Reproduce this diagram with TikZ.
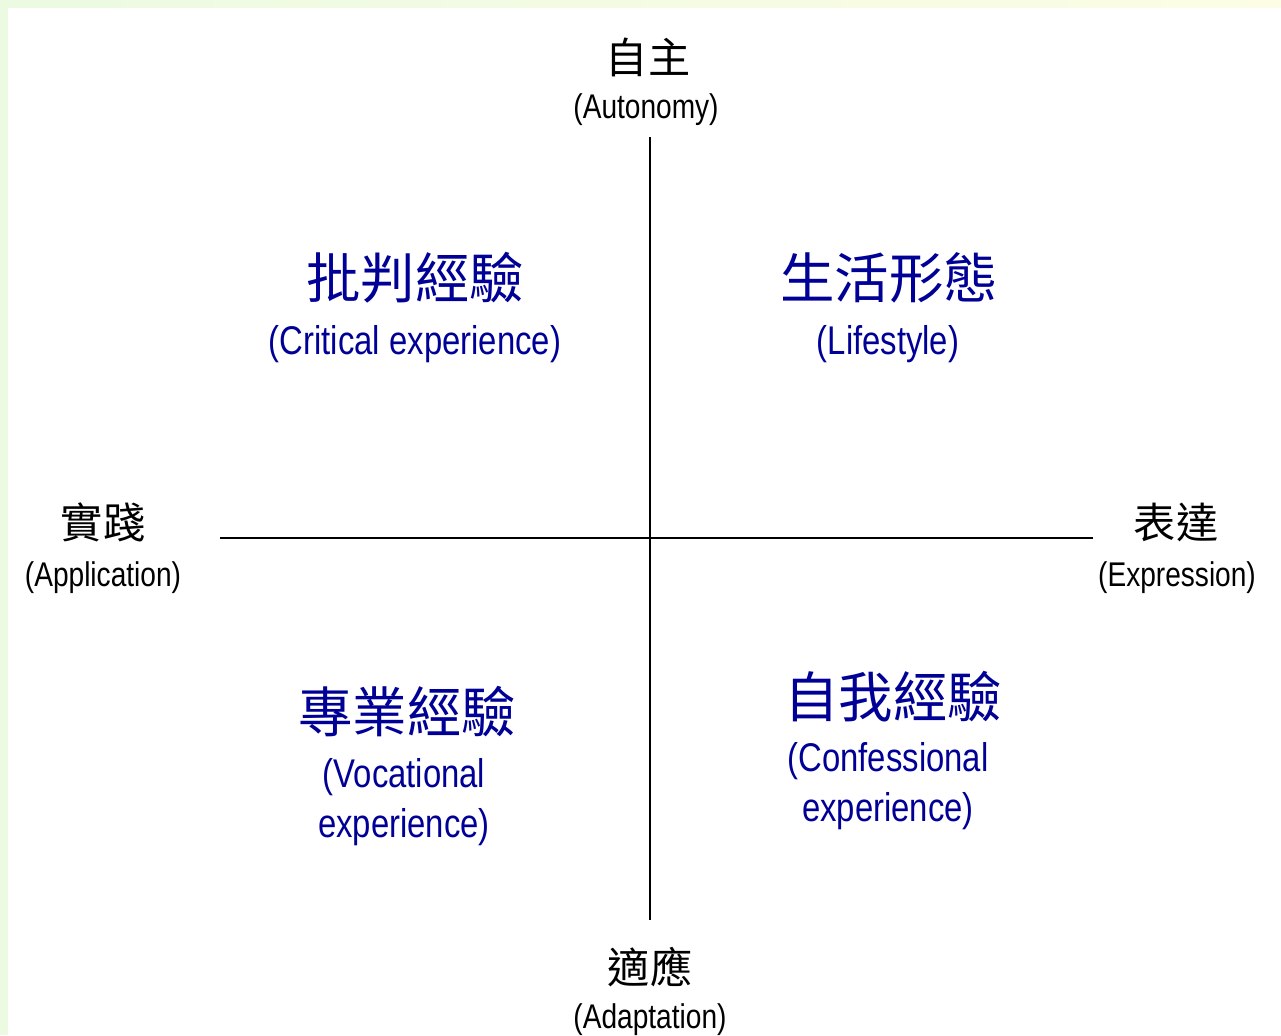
\documentclass[tikz,border=0pt]{standalone}
\usepackage{fontspec}
\usepackage{tikz}
\usetikzlibrary{calc}
\setmainfont{Liberation Sans}[FakeStretch=0.82]
\newfontfamily\cjk{Noto Sans CJK TC}
\definecolor{q_blue}{RGB}{0, 0, 150}
\definecolor{q_green}{RGB}{236, 250, 226}
\definecolor{q_yellow}{RGB}{252, 253, 228}
\tikzstyle{none}=[]
\tikzstyle{pole}=[align=center,inner sep=0pt,text=black]
\tikzstyle{polecn}=[pole,font=\cjk\fontsize{24}{28}\selectfont]
\tikzstyle{poleen}=[pole,font=\fontsize{19.5}{24}\selectfont]
\tikzstyle{quad}=[align=center,inner sep=0pt,text=q_blue]
\tikzstyle{quadcn}=[quad,font=\cjk\fontsize{31}{36}\selectfont]
\tikzstyle{quaden}=[quad,font=\fontsize{22.8}{28.4}\selectfont]
\tikzstyle{axis}=[line width=1.1pt,black]

\begin{document}
\begin{tikzpicture}[x=0.02cm, y=-0.02cm]
		\useasboundingbox (0, 0) rectangle (1281, 1035);
		\fill [white] (0, 0) rectangle (1281, 1035);
		\fill [q_green] (0, 0) rectangle (8, 1035);
		\shade [left color=q_green, right color=q_yellow] (0, 0) rectangle (1281, 7);
		\node [style=none] (0) at (650, 137) {};
		\node [style=none] (1) at (650, 920) {};
		\node [style=none] (2) at (220, 538) {};
		\node [style=none] (3) at (1093, 538) {};
		\node [style=polecn] (4) at (648, 57) {自主};
		\node [style=poleen] (5) at (646, 110) {(Autonomy)};
		\node [style=polecn] (6) at (650, 967) {適應};
		\node [style=poleen] (7) at (650, 1020) {(Adaptation)};
		\node [style=polecn] (8) at (103, 522) {實踐};
		\node [style=poleen] (9) at (103, 578) {(Application)};
		\node [style=polecn] (10) at (1176, 522) {表達};
		\node [style=poleen] (11) at (1177, 578) {(Expression)};
		\node [style=quadcn] (12) at (415, 278) {批判經驗};
		\node [style=quaden] (13) at (415, 344) {(Critical experience)};
		\node [style=quadcn] (14) at (889, 278) {生活形態};
		\node [style=quaden] (15) at (888, 344) {(Lifestyle)};
		\node [style=quadcn] (16) at (407, 712) {專業經驗};
		\node [style=quaden] (17) at (404, 802) {(Vocational\\experience)};
		\node [style=quadcn] (18) at (893, 697) {自我經驗};
		\node [style=quaden] (19) at (888, 786) {(Confessional\\experience)};
		\draw [style=axis] (0.center) to (1.center);
		\draw [style=axis] (2.center) to (3.center);
\end{tikzpicture}
\end{document}
